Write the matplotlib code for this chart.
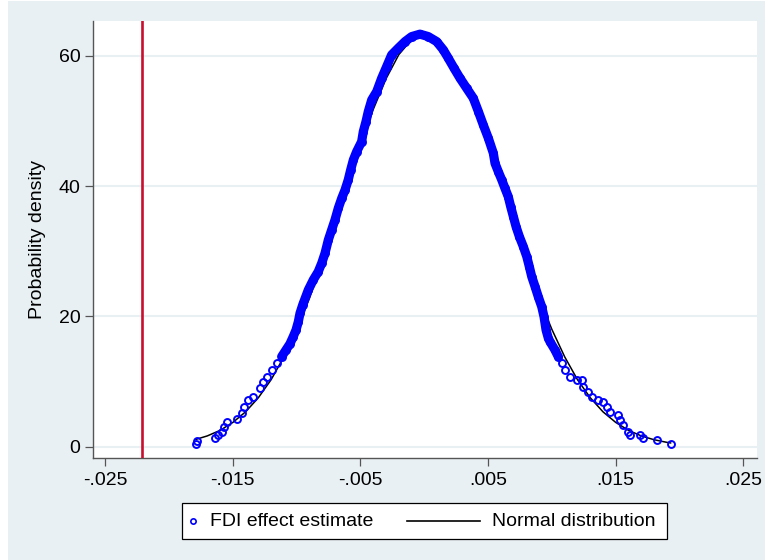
import matplotlib
matplotlib.use("Agg")
import matplotlib.pyplot as plt
from matplotlib.patches import Rectangle
from matplotlib.lines import Line2D
import numpy as np

plt.rcParams['font.family'] = ['Liberation Sans', 'DejaVu Sans']

# ---- data ----
# kernel density of placebo FDI effect estimates (x = estimate, y = density)
est_x = [-0.01792, -0.01779, -0.01640, -0.01614, -0.01588, -0.01570, -0.01544,
         -0.01466, -0.01431, -0.01413, -0.01379, -0.01340, -0.01288, -0.01267,
         -0.01235, -0.01196, -0.01157, -0.01118, -0.01084, -0.01053, -0.01027,
         -0.01005, -0.00987, -0.00974, -0.00953, -0.00948, -0.00909, -0.00870,
         -0.00831, -0.00804, -0.00778, -0.00752, -0.00726, -0.00700, -0.00674,
         -0.00647, -0.00621, -0.00596, -0.00577, -0.00556, -0.00530, -0.00491,
         -0.00478, -0.00457, -0.00439, -0.00412, -0.00373, -0.00334, -0.00295,
         -0.00256, -0.00204, -0.00151, -0.00099, -0.00034, 0.00031, 0.00097,
         0.00149, 0.00188, 0.00233, 0.00280, 0.00332, 0.00384, 0.00424,
         0.00462, 0.00502, 0.00541, 0.00554, 0.00580, 0.00607, 0.00632,
         0.00658, 0.00677, 0.00698, 0.00719, 0.00745, 0.00776, 0.00803,
         0.00823, 0.00842, 0.00868, 0.00893, 0.00920, 0.00938, 0.00954,
         0.00972, 0.00985, 0.01024, 0.01050, 0.01077, 0.01103, 0.01142,
         0.01194, 0.01234, 0.01246, 0.01285, 0.01312, 0.01364, 0.01403,
         0.01429, 0.01455, 0.01520, 0.01534, 0.01560, 0.01599, 0.01612,
         0.01690, 0.01716, 0.01826, 0.01931]
est_y = [0.41, 0.92, 1.29, 1.80, 2.30, 3.07, 3.79,
         4.21, 5.13, 6.05, 7.17, 7.68, 8.97, 9.98,
         10.75, 11.78, 12.81, 13.82, 14.85, 15.78, 16.90,
         17.93, 19.20, 20.49, 21.77, 22.03, 24.07, 25.61,
         26.88, 28.17, 29.71, 31.75, 33.29, 34.82, 36.62,
         38.16, 39.43, 40.97, 42.50, 44.04, 45.31, 46.85,
         48.39, 49.92, 51.46, 53.26, 54.53, 56.59, 58.37,
         60.17, 61.20, 62.21, 62.98, 63.35, 62.98, 62.21,
         60.94, 59.66, 58.13, 56.59, 55.05, 53.52, 51.46,
         49.42, 47.37, 45.07, 43.53, 42.24, 40.97, 39.69,
         38.40, 36.87, 35.33, 33.79, 32.26, 30.72, 29.19,
         27.65, 26.11, 24.58, 23.04, 21.51, 19.97, 17.93,
         16.65, 16.13, 14.85, 13.82, 12.81, 11.78, 10.75,
         10.25, 10.25, 9.22, 8.45, 7.68, 7.17, 6.91,
         6.14, 5.38, 4.87, 4.10, 3.33, 2.30, 1.80,
         1.80, 1.29, 1.03, 0.41]

# normal distribution curve
norm_x = [-0.0179, -0.017, -0.016, -0.015, -0.014, -0.013, -0.012, -0.011,
          -0.010, -0.009, -0.008, -0.007, -0.006, -0.005, -0.004, -0.003,
          -0.002, -0.001, 0.000, 0.001, 0.002, 0.003, 0.004, 0.005, 0.006,
          0.007, 0.008, 0.009, 0.010, 0.011, 0.012, 0.013, 0.014, 0.015,
          0.016, 0.017, 0.018, 0.019, 0.0193]
norm_y = [1.12, 1.66, 2.51, 3.73, 5.36, 7.53, 10.3, 13.8,
          18.0, 22.8, 28.3, 34.1, 40.2, 46.2, 51.8, 56.5,
          60.2, 62.5, 63.3, 62.5, 60.2, 56.5, 51.8, 46.2, 40.2,
          34.1, 28.3, 22.8, 18.0, 13.8, 10.3, 7.53, 5.36, 3.73,
          2.51, 1.66, 1.07, 0.67, 0.58]

true_effect = -0.0221

x_ticks = [-0.025, -0.015, -0.005, 0.005, 0.015, 0.025]
x_ticklabels = ['-.025', '-.015', '-.005', '.005', '.015', '.025']
y_ticks = [0, 20, 40, 60]
y_ticklabels = ['0', '20', '40', '60']

legend_labels = ['FDI effect estimate', 'Normal distribution']
y_label = 'Probability density'

# ---- figure ----
W, H = 765, 560
bg = '#e9f0f3'
fig = plt.figure(figsize=(W / 100, H / 100), dpi=100, facecolor='white')


def fx(px):
    return px / W


def fy(py):
    return 1 - py / H


fig.add_artist(Rectangle((fx(8), 0), 1 - fx(8), fy(1), transform=fig.transFigure,
                         facecolor=bg, edgecolor='none', zorder=0))

ax = fig.add_axes([fx(93), fy(458), fx(757) - fx(93), fy(21) - fy(458)])
ax.set_facecolor('white')

ax.set_xlim(-0.02596, 0.02607)
ax.set_ylim(-1.735, 65.37)

for yt in y_ticks:
    ax.axhline(yt, color=bg, lw=1.5, zorder=0.5)

ax.plot(norm_x, norm_y, color='black', lw=1.1, zorder=2)

ex = np.array(est_x)
ey = np.array(est_y)
mask = ey >= 13.5
idx = np.where(mask)[0]
ax.plot(ex[idx[0]:idx[-1] + 1], ey[idx[0]:idx[-1] + 1], color='#0000ff', lw=6.6,
        solid_capstyle='round', solid_joinstyle='round', zorder=3)
ax.plot(ex, ey, linestyle='none', marker='o', ms=5.0, mfc='none', mec='#0000ff',
        mew=1.4, zorder=4)

ax.axvline(true_effect, color='#c8102e', lw=1.9, zorder=5)

ax.set_xticks(x_ticks)
ax.set_xticklabels(x_ticklabels)
ax.set_yticks(y_ticks)
ax.set_yticklabels(y_ticklabels)
ax.tick_params(axis='both', labelsize=14, length=5.5, width=0.9, color='#555555',
               direction='out', labelcolor='black')
ax.tick_params(axis='x', pad=4.5)
ax.tick_params(axis='y', pad=3.5)
for s in ['top', 'right']:
    ax.spines[s].set_visible(False)
for s in ['left', 'bottom']:
    ax.spines[s].set_color('#555555')
    ax.spines[s].set_linewidth(1.0)

ax.set_ylabel(y_label, fontsize=14, labelpad=9)

# ---- legend (drawn in figure pixels) ----
fig.add_artist(Rectangle((fx(182), fy(539)), fx(667) - fx(182), fy(503) - fy(539),
                         transform=fig.transFigure, facecolor='white',
                         edgecolor='black', lw=0.9, zorder=5))
ly = 521
fig.add_artist(Line2D([fx(193)], [fy(ly)], transform=fig.transFigure, marker='o',
                      ms=3.8, mfc='none', mec='#0000ff', mew=1.2, linestyle='none',
                      zorder=6))
fig.text(fx(210), fy(ly), legend_labels[0], fontsize=14, va='center', ha='left',
         zorder=6)
fig.add_artist(Line2D([fx(407), fx(480)], [fy(ly), fy(ly)], transform=fig.transFigure,
                      color='black', lw=1.2, zorder=6))
fig.text(fx(492), fy(ly), legend_labels[1], fontsize=14, va='center', ha='left',
         zorder=6)

fig.savefig('out.png', dpi=100, facecolor=fig.get_facecolor())
